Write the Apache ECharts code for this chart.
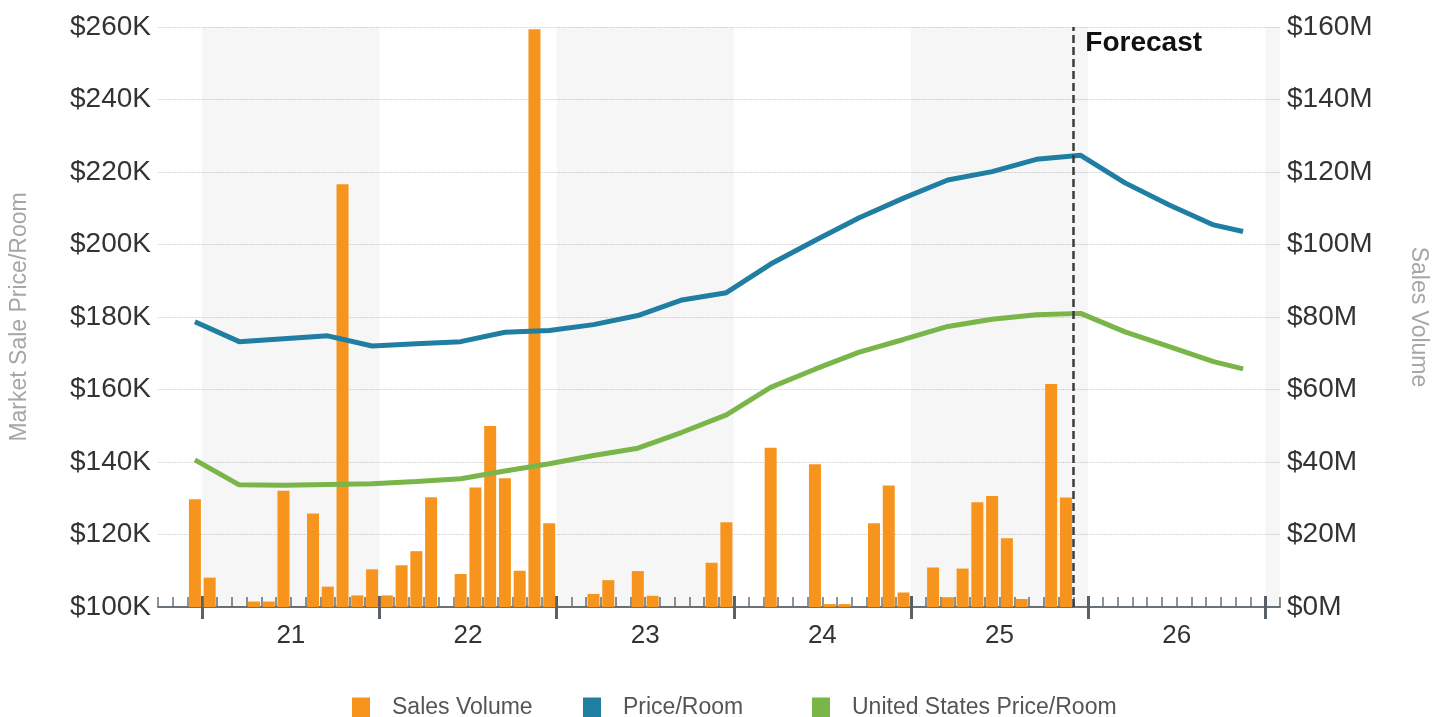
<!DOCTYPE html>
<html>
<head>
<meta charset="utf-8">
<script src="https://cdn.jsdelivr.net/npm/echarts@6/dist/echarts.min.js"></script>
<style>
  html, body { margin: 0; padding: 0; background: #ffffff; }
  #chart { width: 1441px; height: 717px; }
</style>
</head>
<body>
<div id="chart"></div>
<script>
// Monthly timeline, Oct 2020 through Jan 2027
const months = [
  '2020-10','2020-11','2020-12',
  '2021-01','2021-02','2021-03','2021-04','2021-05','2021-06','2021-07','2021-08','2021-09','2021-10','2021-11','2021-12',
  '2022-01','2022-02','2022-03','2022-04','2022-05','2022-06','2022-07','2022-08','2022-09','2022-10','2022-11','2022-12',
  '2023-01','2023-02','2023-03','2023-04','2023-05','2023-06','2023-07','2023-08','2023-09','2023-10','2023-11','2023-12',
  '2024-01','2024-02','2024-03','2024-04','2024-05','2024-06','2024-07','2024-08','2024-09','2024-10','2024-11','2024-12',
  '2025-01','2025-02','2025-03','2025-04','2025-05','2025-06','2025-07','2025-08','2025-09','2025-10','2025-11','2025-12',
  '2026-01','2026-02','2026-03','2026-04','2026-05','2026-06','2026-07','2026-08','2026-09','2026-10','2026-11','2026-12',
  '2027-01'
];

// Monthly sales volume, $M (null = no transactions)
const salesVolume = [
  null, null, 29.7,
  8.1, null, null, 1.5, 1.5, 32.1, null, 25.8, 5.6, 116.6, 3.2, 10.4,
  3.2, 11.5, 15.4, 30.3, null, 9.1, 33.0, 49.9, 35.5, 10.0, 159.4, 23.1,
  null, null, 3.6, 7.4, null, 9.9, 3.1, null, null, null, 12.2, 23.4,
  null, null, 43.9, null, null, 39.4, 0.8, 0.8, null, 23.1, 33.5, 4.0,
  null, 10.9, 2.7, 10.6, 28.9, 30.6, 19.0, 2.2, null, 61.5, 30.2, null,
  null, null, null, null, null, null, null, null, null, null, null, null,
  null
];

// Quarterly price series, $K per room
const quarterMonths = [
  '2020-12','2021-03','2021-06','2021-09','2021-12','2022-03','2022-06','2022-09','2022-12',
  '2023-03','2023-06','2023-09','2023-12','2024-03','2024-06','2024-09','2024-12',
  '2025-03','2025-06','2025-09','2025-12','2026-03','2026-06','2026-09','2026-11'
];
const priceRoom = [
  178.7, 173.2, 174.0, 174.8, 172.0, 172.6, 173.2, 175.8, 176.3,
  177.9, 180.4, 184.7, 186.7, 194.6, 201.1, 207.4, 212.8,
  217.8, 220.1, 223.5, 224.6, 217.0, 210.9, 205.4, 203.6
];
const usPriceRoom = [
  140.6, 133.7, 133.6, 133.8, 134.0, 134.6, 135.4, 137.5, 139.5,
  141.8, 143.8, 148.2, 153.0, 160.6, 165.6, 170.3, 173.8,
  177.4, 179.4, 180.6, 181.0, 175.9, 171.8, 167.7, 165.7
];

const yearLabels = ['21', '22', '23', '24', '25', '26'];
const shadedYears = ['2021', '2023', '2025', '2027'];
const forecastStart = '2025-12';

// Half-month slots: even = month boundary, odd = month centre
const slots = [];
months.forEach(m => { slots.push(m + ' start'); slots.push(m); });
slots.push('end');
const centreOf = m => 2 * months.indexOf(m) + 1;
const boundaryOf = m => 2 * months.indexOf(m);
const firstLabelSlot = boundaryOf('2021-07');
const yearStartSlot = boundaryOf('2021-01');

const barData = slots.map(() => null);
salesVolume.forEach((v, i) => { barData[2 * i + 1] = v; });
const priceData = slots.map(() => null);
const usPriceData = slots.map(() => null);
quarterMonths.forEach((m, j) => {
  priceData[centreOf(m)] = priceRoom[j];
  usPriceData[centreOf(m)] = usPriceRoom[j];
});

// markArea on a category axis covers its end slot inclusively
const bandAreas = shadedYears.map(y => {
  const s = boundaryOf(y + '-01');
  const e = Math.min(s + 24, slots.length - 1) - 1;
  return [{ xAxis: slots[s] }, { xAxis: slots[e] }];
});
const fcSlot = slots[boundaryOf(forecastStart)];

const FONT = '"Liberation Sans", Arial, sans-serif';
const ORANGE = '#f7941d', BLUE = '#1f7ea1', GREEN = '#79b548';

const baseX = {
  type: 'category', data: slots, boundaryGap: false, gridIndex: 0,
  position: 'bottom'
};

const chart = echarts.init(document.getElementById('chart'), null, { renderer: 'canvas' });
chart.setOption({
  animation: false,
  backgroundColor: '#ffffff',
  textStyle: { fontFamily: FONT },
  grid: { left: 157, right: 161, top: 27, bottom: 110 },
  xAxis: [
    Object.assign({}, baseX, {
      axisLine: { show: true, lineStyle: { color: '#6a7178', width: 2 } },
      axisTick: {
        show: true, inside: true, length: 10,
        interval: (i) => i % 2 === 0,
        lineStyle: { color: '#6a7178', width: 1.5 }
      },
      axisLabel: {
        show: true, margin: 16, fontSize: 26, color: '#333333', fontFamily: FONT,
        interval: (i) => i >= firstLabelSlot && (i - firstLabelSlot) % 24 === 0 &&
          (i - firstLabelSlot) / 24 < yearLabels.length,
        formatter: (v, i) => yearLabels[(i - firstLabelSlot) / 24]
      },
      splitLine: { show: false }
    }),
    Object.assign({}, baseX, {
      axisLine: { show: false },
      axisTick: {
        show: true, inside: false, length: 12,
        interval: (i) => i >= yearStartSlot && (i - yearStartSlot) % 24 === 0,
        lineStyle: { color: '#5a6168', width: 3 }
      },
      axisLabel: { show: false },
      splitLine: { show: false }
    }),
    Object.assign({}, baseX, {
      axisLine: { show: false },
      axisTick: {
        show: true, inside: true, length: 11,
        interval: (i) => i >= yearStartSlot && (i - yearStartSlot) % 24 === 0,
        lineStyle: { color: '#5a6168', width: 3 }
      },
      axisLabel: { show: false },
      splitLine: { show: false }
    })
  ],
  yAxis: [
    {
      type: 'value', min: 100, max: 260, interval: 20, position: 'left',
      name: 'Market Sale Price/Room', nameLocation: 'middle', nameGap: 127,
      nameTextStyle: { fontSize: 23, color: '#a6a6a6', fontFamily: FONT },
      axisLine: { show: false }, axisTick: { show: false },
      axisLabel: { margin: 7, fontSize: 28, color: '#333333', fontFamily: FONT,
        formatter: v => '$' + v + 'K' },
      splitLine: { show: true, lineStyle: { color: '#cccccc', type: 'dotted', width: 1.2 } }
    },
    {
      type: 'value', min: 0, max: 160, interval: 20, position: 'right',
      name: 'Sales Volume', nameLocation: 'middle', nameGap: 127, nameRotate: -90,
      nameTextStyle: { fontSize: 23, color: '#a6a6a6', fontFamily: FONT },
      axisLine: { show: false }, axisTick: { show: false },
      axisLabel: { margin: 7, fontSize: 28, color: '#333333', fontFamily: FONT,
        formatter: v => '$' + v + 'M' },
      splitLine: { show: false }
    }
  ],
  legend: [
    { data: ['Sales Volume'], left: 352 },
    { data: ['Price/Room'], left: 583 },
    { data: ['United States Price/Room'], left: 812 }
  ].map(l => Object.assign(l, {
    top: 696, icon: 'rect', itemWidth: 18, itemHeight: 20, padding: 0,
    textStyle: { fontSize: 23, color: '#555555', fontFamily: FONT, padding: [0, 0, 0, 17] }
  })),
  series: [
    {
      name: 'Sales Volume', type: 'bar', xAxisIndex: 0, yAxisIndex: 1,
      data: barData, barWidth: 12, itemStyle: { color: ORANGE },
      markArea: {
        silent: true,
        itemStyle: { color: 'rgba(0,0,0,0.035)' },
        data: bandAreas
      }
    },
    {
      name: 'Price/Room', type: 'line', xAxisIndex: 0, yAxisIndex: 0,
      data: priceData, connectNulls: true, showSymbol: false, z: 4,
      lineStyle: { color: BLUE, width: 5 }, itemStyle: { color: BLUE }
    },
    {
      name: 'United States Price/Room', type: 'line', xAxisIndex: 0, yAxisIndex: 0,
      data: usPriceData, connectNulls: true, showSymbol: false, z: 4,
      lineStyle: { color: GREEN, width: 5 }, itemStyle: { color: GREEN },
      markLine: {
        silent: true, symbol: 'none',
        lineStyle: { color: '#3d3d3d', width: 2.5, type: [8, 4] },
        label: { show: false },
        data: [{ xAxis: fcSlot }]
      },
      markArea: {
        silent: true,
        itemStyle: { color: 'rgba(0,0,0,0)' },
        label: {
          show: true, position: 'insideTopLeft', offset: [7, -3],
          fontSize: 28, fontWeight: 'bold', color: '#111111', fontFamily: FONT
        },
        data: [[{ xAxis: fcSlot, name: 'Forecast' }, { xAxis: slots[slots.length - 2] }]]
      }
    }
  ]
});
</script>
</body>
</html>
